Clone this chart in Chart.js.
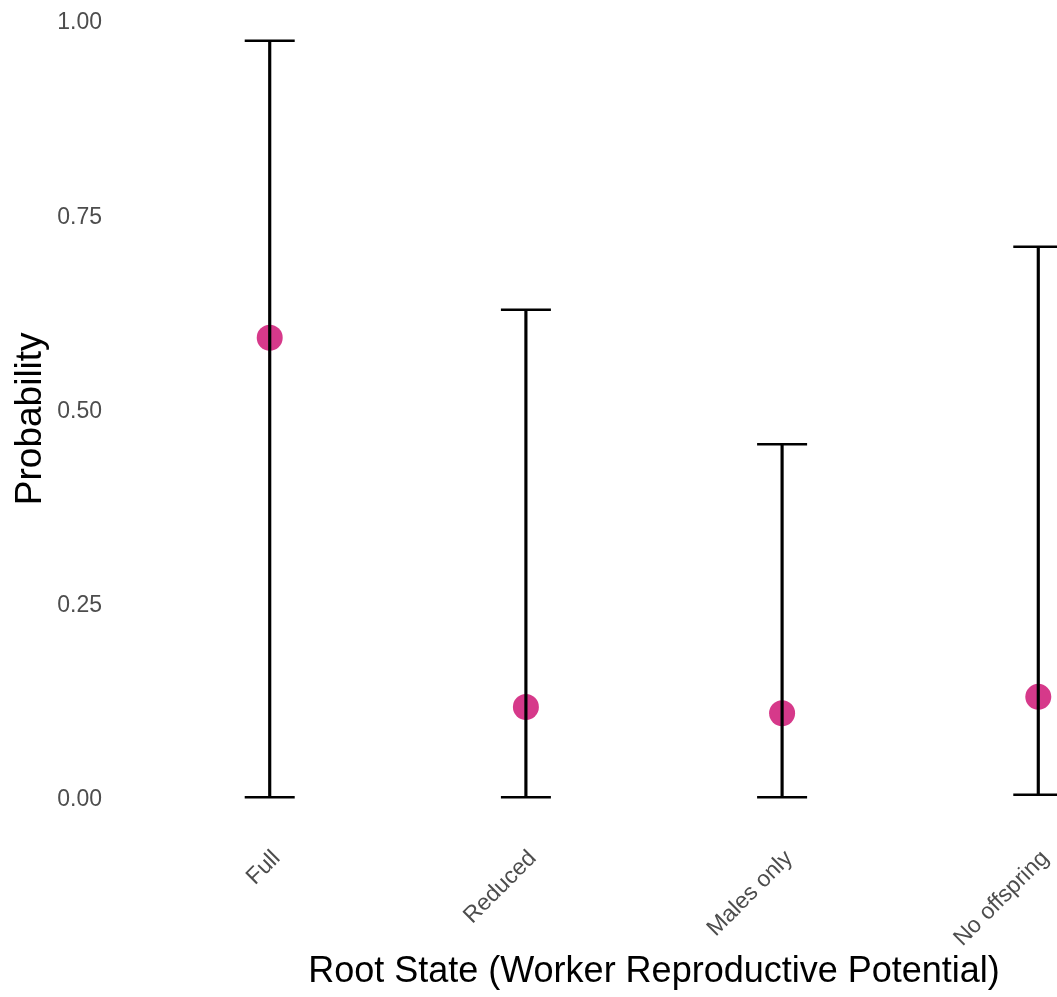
<!DOCTYPE html>
<html>
<head>
<meta charset="utf-8">
<title>Root State probability</title>
<script src="https://cdn.jsdelivr.net/npm/chart.js@4.4.1/dist/chart.umd.min.js"></script>
<style>
  html, body { margin: 0; padding: 0; background: #fff; }
  #wrap { position: relative; width: 1057px; height: 997px; overflow: hidden; }
  /* the original figure is cropped on the top and right, so the canvas is a bit bigger than the page */
  #chart { position: absolute; left: 0; top: -40px; }
</style>
</head>
<body>
<div id="wrap">
  <canvas id="chart" width="1200" height="1037"></canvas>
</div>
<script>
const categories = ['Full', 'Reduced', 'Males only', 'No offspring'];
const probMean = [0.591, 0.116, 0.108, 0.129];
const ciLower = [0.000, 0.000, 0.000, 0.003];
const ciUpper = [0.973, 0.627, 0.454, 0.708];
const yTicks = [0, 0.25, 0.5, 0.75, 1];

const FONT = "'Liberation Sans', Arial, Helvetica, sans-serif";
const PINK = '#D6398A';

// error bar stems as floating bars, caps as line-shaped points
const stems = categories.map((c, i) => ({ x: i + 1, y: [ciLower[i], ciUpper[i]] }));
const caps = [];
categories.forEach((c, i) => {
  caps.push({ x: i + 1, y: ciLower[i] });
  caps.push({ x: i + 1, y: ciUpper[i] });
});
const means = categories.map((c, i) => ({ x: i + 1, y: probMean[i] }));

const ctx = document.getElementById('chart');
new Chart(ctx, {
  type: 'scatter',
  data: {
    datasets: [
      {
        type: 'bar',
        data: stems,
        backgroundColor: '#000',
        barThickness: 2.5,
        order: 0
      },
      {
        type: 'scatter',
        data: caps,
        pointStyle: 'line',
        pointRadius: 25,
        borderColor: '#000',
        borderWidth: 2.5,
        order: 1
      },
      {
        type: 'scatter',
        data: means,
        pointRadius: 13,
        backgroundColor: PINK,
        borderWidth: 0,
        order: 2
      }
    ]
  },
  options: {
    responsive: false,
    animation: false,
    events: [],
    layout: { autoPadding: false, padding: { top: 21, right: 8, bottom: 0, left: 0 } },
    plugins: {
      legend: { display: false },
      tooltip: { enabled: false }
    },
    scales: {
      x: {
        type: 'linear',
        min: 0.4,
        max: 4.6,
        offset: false,
        grid: { display: false, drawTicks: false },
        border: { display: false },
        afterBuildTicks: (scale) => {
          scale.ticks = categories.map((c, i) => ({ value: i + 1 }));
        },
        afterFit: (scale) => {
          scale.height = 161;
          scale.paddingLeft = 0;
          scale.paddingRight = 0;
        },
        ticks: {
          autoSkip: false,
          minRotation: 45,
          maxRotation: 45,
          padding: 9,
          labelOffset: 7,
          color: '#4D4D4D',
          font: { family: FONT, size: 23 },
          callback: (v) => categories[v - 1]
        },
        title: {
          display: true,
          text: 'Root State (Worker Reproductive Potential)',
          color: '#000',
          font: { family: FONT, size: 36 },
          padding: { top: 0, bottom: 3 }
        }
      },
      y: {
        min: -0.05,
        max: 1.05,
        grid: { display: false, drawTicks: false },
        border: { display: false },
        afterBuildTicks: (scale) => {
          scale.ticks = yTicks.map(v => ({ value: v }));
        },
        afterFit: (scale) => {
          scale.width = 116;
          scale.paddingTop = 0;
          scale.paddingBottom = 0;
        },
        ticks: {
          padding: 14,
          labelOffset: 3,
          color: '#4D4D4D',
          font: { family: FONT, size: 23 },
          callback: (v) => v.toFixed(2)
        },
        title: {
          display: true,
          // trailing spaces nudge the label down a little, like the original
          text: 'Probability  ',
          color: '#000',
          font: { family: FONT, size: 37 },
          padding: { top: 9, bottom: 0 }
        }
      }
    }
  }
});
</script>
</body>
</html>
